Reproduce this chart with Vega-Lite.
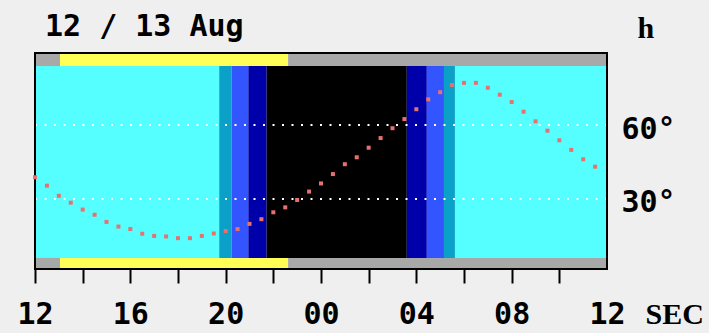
{
  "$schema": "https://vega.github.io/schema/vega-lite/v6.json",
  "width": 572,
  "height": 216,
  "autosize": {"type": "none"},
  "padding": {"left": 35, "top": 53, "right": 102, "bottom": 64},
  "background": "#efefef",
  "config": {
    "view": {"stroke": null},
    "axis": {"labelFont": "DejaVu Sans Mono", "labelFontWeight": "bold", "labelFontSize": 30, "labelColor": "#000"}
  },
  "title": {"text": "12 / 13 Aug", "anchor": "start", "frame": "group", "font": "DejaVu Sans Mono", "fontSize": 30, "fontWeight": "bold", "color": "#000", "dx": 10, "dy": 33},
  "datasets": {
    "bands": [
      {"start": 12, "end": 19.73, "phase": "day"},
      {"start": 19.73, "end": 20.25, "phase": "civil"},
      {"start": 20.25, "end": 20.95, "phase": "nautical"},
      {"start": 20.95, "end": 21.72, "phase": "astronomical"},
      {"start": 21.72, "end": 27.6, "phase": "night"},
      {"start": 27.6, "end": 28.44, "phase": "astronomical"},
      {"start": 28.44, "end": 29.16, "phase": "nautical"},
      {"start": 29.16, "end": 29.62, "phase": "civil"},
      {"start": 29.62, "end": 36, "phase": "day"}
    ],
    "strip": [
      {"start": 12, "end": 13.05, "phase": "below"},
      {"start": 13.05, "end": 22.62, "phase": "above"},
      {"start": 22.62, "end": 36, "phase": "below"}
    ],
    "grid": [{"alt": 30}, {"alt": 60}],
    "track": [
      {"t": 12.0, "alt": 38.8}, {"t": 12.5, "alt": 35.4}, {"t": 13.0, "alt": 31.3}, {"t": 13.5, "alt": 28.5},
      {"t": 14.0, "alt": 25.7}, {"t": 14.5, "alt": 23.6}, {"t": 15.0, "alt": 20.7}, {"t": 15.5, "alt": 18.8},
      {"t": 16.0, "alt": 17.8}, {"t": 16.5, "alt": 15.9}, {"t": 17.0, "alt": 15.0}, {"t": 17.5, "alt": 14.8},
      {"t": 18.0, "alt": 14.1}, {"t": 18.5, "alt": 14.1}, {"t": 19.0, "alt": 15.0}, {"t": 19.5, "alt": 16.0},
      {"t": 20.0, "alt": 17.0}, {"t": 20.5, "alt": 17.8}, {"t": 21.0, "alt": 19.9}, {"t": 21.5, "alt": 21.8},
      {"t": 22.0, "alt": 24.6}, {"t": 22.5, "alt": 26.6}, {"t": 23.0, "alt": 29.6}, {"t": 23.5, "alt": 33.0},
      {"t": 24.0, "alt": 36.3}, {"t": 24.5, "alt": 40.1}, {"t": 25.0, "alt": 44.1}, {"t": 25.5, "alt": 46.9},
      {"t": 26.0, "alt": 50.8}, {"t": 26.5, "alt": 54.7}, {"t": 27.0, "alt": 58.7}, {"t": 27.5, "alt": 62.4},
      {"t": 28.0, "alt": 66.4}, {"t": 28.5, "alt": 70.4}, {"t": 29.0, "alt": 73.3}, {"t": 29.5, "alt": 76.2},
      {"t": 30.0, "alt": 77.1}, {"t": 30.5, "alt": 77.1}, {"t": 31.0, "alt": 75.1}, {"t": 31.5, "alt": 72.3},
      {"t": 32.0, "alt": 69.3}, {"t": 32.5, "alt": 65.4}, {"t": 33.0, "alt": 61.5}, {"t": 33.5, "alt": 57.7},
      {"t": 34.0, "alt": 53.8}, {"t": 34.5, "alt": 49.9}, {"t": 35.0, "alt": 46.1}, {"t": 35.5, "alt": 43.1}
    ]
  },
  "layer": [
    {
      "data": {"name": "bands"},
      "mark": {"type": "rect"},
      "encoding": {
        "x": {
          "field": "start", "type": "quantitative", "title": "SEC",
          "scale": {"domain": [12, 36], "nice": false, "zero": false},
          "axis": {
            "orient": "bottom",
            "values": [12, 13, 14, 15, 16, 17, 18, 19, 20, 21, 22, 23, 24, 25, 26, 27, 28, 29, 30, 31, 32, 33, 34, 35, 36],
            "domain": false, "grid": false, "ticks": true,
            "tickColor": "#000", "tickWidth": 2,
            "tickSize": {"condition": {"test": "datum.value % 2 == 0", "value": 14}, "value": 9},
            "tickOpacity": {"condition": {"test": "datum.value == 36", "value": 0}, "value": 1},
            "labelExpr": "datum.value % 4 == 0 ? ((datum.value % 24) < 10 ? '0' : '') + (datum.value % 24) : ''",
            "labelFlush": false, "labelOverlap": false, "labelBound": false,
            "labelBaseline": "alphabetic", "labelPadding": 40, "labelAlign": "center",
            "title": "SEC", "titleFont": "Liberation Serif", "titleFontSize": 30, "titleFontWeight": "bold",
            "titleColor": "#000", "titleAnchor": "start", "titleAlign": "left", "titleBaseline": "alphabetic",
            "titleX": 610, "titleY": 54
          }
        },
        "x2": {"field": "end"},
        "y": {
          "datum": 6.1, "type": "quantitative", "title": "h",
          "scale": {"domain": [1.6, 89.2], "nice": false, "zero": false},
          "axis": {
            "orient": "right", "values": [30, 60],
            "labelExpr": "datum.value + '°'",
            "domain": false, "ticks": false, "grid": false,
            "labelPadding": 14, "labelAlign": "left", "labelBaseline": "middle", "labelOffset": 4,
            "title": "h", "titleAngle": 0, "titleFont": "Liberation Serif", "titleFontSize": 30,
            "titleFontWeight": "bold", "titleColor": "#000", "titleAlign": "left", "titleBaseline": "alphabetic",
            "titleX": 30, "titleY": -16
          }
        },
        "y2": {"datum": 83.9},
        "color": {
          "field": "phase", "type": "nominal", "legend": null,
          "scale": {
            "domain": ["day", "civil", "nautical", "astronomical", "night", "above", "below"],
            "range": ["#55ffff", "#0aa0c8", "#3355ff", "#0000aa", "#000000", "#ffff55", "#a8a8a8"]
          }
        }
      }
    },
    {
      "data": {"name": "strip"},
      "mark": {"type": "rect"},
      "encoding": {
        "x": {"field": "start", "type": "quantitative", "title": "SEC"},
        "x2": {"field": "end"},
        "y": {"datum": 83.9, "type": "quantitative", "title": "h"},
        "y2": {"datum": 89.2},
        "color": {"field": "phase", "type": "nominal", "legend": null}
      }
    },
    {
      "data": {"name": "strip"},
      "mark": {"type": "rect"},
      "encoding": {
        "x": {"field": "start", "type": "quantitative", "title": "SEC"},
        "x2": {"field": "end"},
        "y": {"datum": 1.6, "type": "quantitative", "title": "h"},
        "y2": {"datum": 6.1},
        "color": {"field": "phase", "type": "nominal", "legend": null}
      }
    },
    {
      "data": {"name": "grid"},
      "mark": {"type": "rule", "color": "#ffffff", "strokeWidth": 2, "strokeDash": [2, 7.5]},
      "encoding": {
        "y": {"field": "alt", "type": "quantitative", "title": "h"}
      }
    },
    {
      "data": {"values": [{}]},
      "mark": {"type": "rect", "fillOpacity": 0, "stroke": "#000000", "strokeWidth": 2},
      "encoding": {
        "x": {"datum": 12, "type": "quantitative", "title": "SEC"},
        "x2": {"datum": 36},
        "y": {"datum": 1.6, "type": "quantitative", "title": "h"},
        "y2": {"datum": 89.2}
      }
    },
    {
      "data": {"name": "track"},
      "mark": {"type": "square", "size": 16, "color": "#e87070", "opacity": 1, "filled": true},
      "encoding": {
        "x": {"field": "t", "type": "quantitative", "title": "SEC"},
        "y": {"field": "alt", "type": "quantitative", "title": "h"}
      }
    }
  ]
}
